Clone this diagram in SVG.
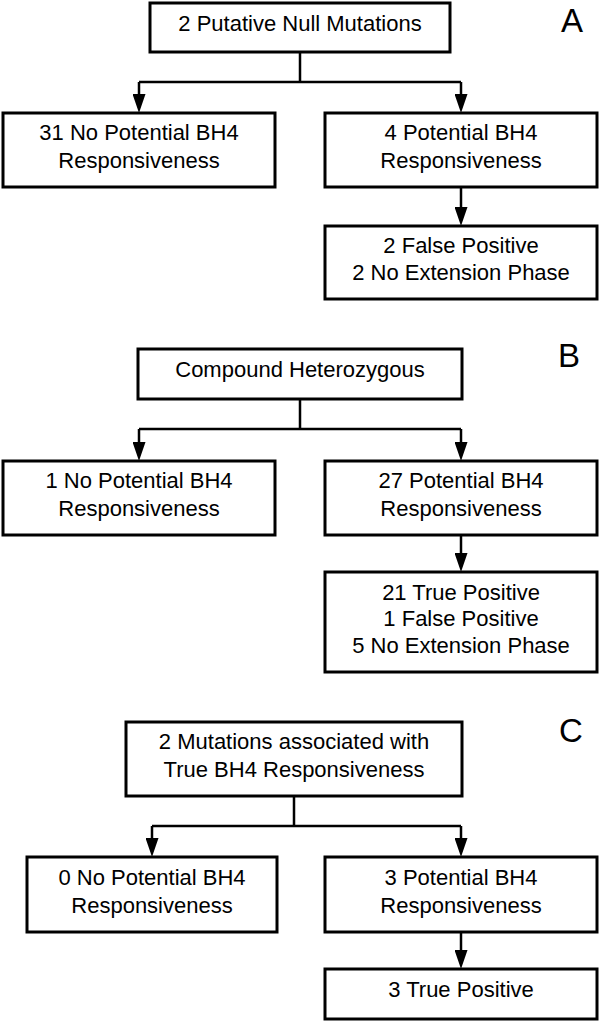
<svg xmlns="http://www.w3.org/2000/svg" width="600" height="1022" viewBox="0 0 600 1022">
<defs>
<style>
.box{fill:#fff;stroke:#000;stroke-width:3}
.t{font-family:"Liberation Sans",Arial,sans-serif;font-size:22px;fill:#000;text-anchor:middle}
.lbl{font-family:"Liberation Sans",Arial,sans-serif;font-size:33px;fill:#000}
.ln{fill:none;stroke:#000;stroke-width:2.5}
</style>
<marker id="ah" markerUnits="userSpaceOnUse" viewBox="0 0 19 13" markerWidth="19" markerHeight="13" refX="14" refY="6.5" orient="auto">
<path d="M0,0 L19,6.5 L0,13 z" fill="#000"/>
</marker>
</defs>
<rect width="600" height="1022" fill="#fff"/>

<g id="connectors">
<path class="ln" d="M300,52 V82 M139,82 H461" />
<path class="ln" d="M139,82 V108" marker-end="url(#ah)"/>
<path class="ln" d="M461,82 V108" marker-end="url(#ah)"/>
<path class="ln" d="M461,187 V221" marker-end="url(#ah)"/>

<path class="ln" d="M300,399 V429 M139,429 H461" />
<path class="ln" d="M139,429 V456" marker-end="url(#ah)"/>
<path class="ln" d="M461,429 V456" marker-end="url(#ah)"/>
<path class="ln" d="M461,535 V567" marker-end="url(#ah)"/>

<path class="ln" d="M294,796 V826 M152,826 H461" />
<path class="ln" d="M152,826 V852" marker-end="url(#ah)"/>
<path class="ln" d="M461,826 V852" marker-end="url(#ah)"/>
<path class="ln" d="M461,932 V964" marker-end="url(#ah)"/>
</g>

<g id="labelA"><text class="lbl" x="561" y="32">A</text></g>
<g id="labelB"><text class="lbl" x="558" y="367">B</text></g>
<g id="labelC"><text class="lbl" x="559" y="742">C</text></g>

<g id="a-top"><rect class="box" x="150" y="3" width="300" height="49"/><text class="t" x="300" y="31">2 Putative Null Mutations</text></g>
<g id="a-left"><rect class="box" x="3" y="113" width="272" height="74"/><text class="t" x="139" y="140">31 No Potential BH4</text><text class="t" x="139" y="168">Responsiveness</text></g>
<g id="a-right"><rect class="box" x="325" y="113" width="272" height="74"/><text class="t" x="461" y="140">4 Potential BH4</text><text class="t" x="461" y="168">Responsiveness</text></g>
<g id="a-result"><rect class="box" x="325" y="226" width="272" height="73"/><text class="t" x="461" y="253">2 False Positive</text><text class="t" x="461" y="280">2 No Extension Phase</text></g>

<g id="b-top"><rect class="box" x="138" y="349" width="324" height="50"/><text class="t" x="300" y="377">Compound Heterozygous</text></g>
<g id="b-left"><rect class="box" x="3" y="461" width="272" height="74"/><text class="t" x="139" y="488">1 No Potential BH4</text><text class="t" x="139" y="516">Responsiveness</text></g>
<g id="b-right"><rect class="box" x="325" y="461" width="272" height="74"/><text class="t" x="461" y="488">27 Potential BH4</text><text class="t" x="461" y="516">Responsiveness</text></g>
<g id="b-result"><rect class="box" x="325" y="572" width="272" height="100"/><text class="t" x="461" y="600">21 True Positive</text><text class="t" x="461" y="626">1 False Positive</text><text class="t" x="461" y="653">5 No Extension Phase</text></g>

<g id="c-top"><rect class="box" x="126" y="722" width="336" height="74"/><text class="t" x="294" y="749">2 Mutations associated with</text><text class="t" x="294" y="777">True BH4 Responsiveness</text></g>
<g id="c-left"><rect class="box" x="27" y="857" width="250" height="75"/><text class="t" x="152" y="885">0 No Potential BH4</text><text class="t" x="152" y="913">Responsiveness</text></g>
<g id="c-right"><rect class="box" x="325" y="857" width="272" height="75"/><text class="t" x="461" y="885">3 Potential BH4</text><text class="t" x="461" y="913">Responsiveness</text></g>
<g id="c-result"><rect class="box" x="325" y="969" width="272" height="50"/><text class="t" x="461" y="997">3 True Positive</text></g>
</svg>
